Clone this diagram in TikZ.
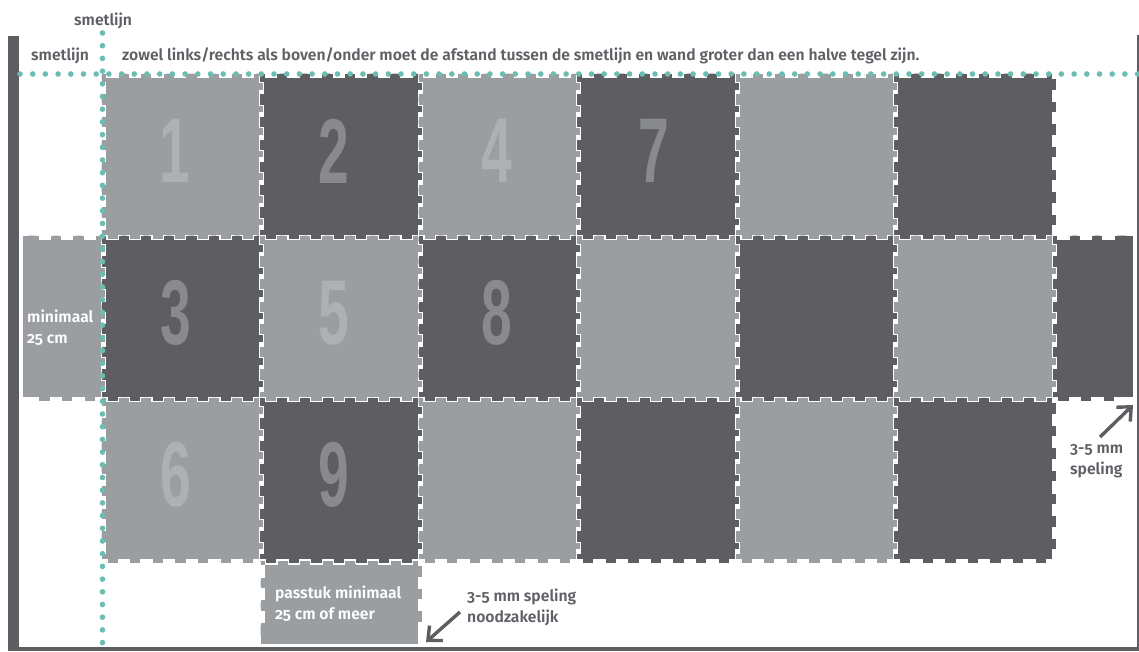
\documentclass[tikz,border=0pt]{standalone}
\usepackage{fontspec}
\setmainfont{Fira Sans}[Numbers=OldStyle,BoldFont={Fira Sans SemiBold}]
\newfontfamily\digitfont{Liberation Sans}[Scale=1]
\usetikzlibrary{arrows.meta}
\definecolor{lt}{HTML}{9B9EA1}
\definecolor{dk}{HTML}{5E5D62}
\definecolor{ltd}{HTML}{AEB1B3}
\definecolor{dkd}{HTML}{898A8D}
\definecolor{teal}{HTML}{6CBDB1}
\definecolor{ink}{HTML}{5F6066}
\def\pp{22.6}
\def\tt{4}
\newcommand\topE[1]{\foreach \i in {1,...,#1}{ -- ++(.25*\pp,0) -- ++(0,\tt) -- ++(.5*\pp,0) -- ++(0,-\tt) -- ++(.25*\pp,0)}}
\newcommand\botE[1]{\foreach \i in {1,...,#1}{ -- ++(-.25*\pp,0) -- ++(0,\tt) -- ++(-.5*\pp,0) -- ++(0,-\tt) -- ++(-.25*\pp,0)}}
\newcommand\rightE[1]{\foreach \i in {1,...,#1}{ -- ++(0,.25*\pp) -- ++(\tt,0) -- ++(0,.5*\pp) -- ++(-\tt,0) -- ++(0,.25*\pp)}}
\newcommand\leftE[1]{\foreach \i in {1,...,#1}{ -- ++(0,-.25*\pp) -- ++(\tt,0) -- ++(0,-.5*\pp) -- ++(-\tt,0) -- ++(0,-.25*\pp)}}
\newcommand\tile[3]{\path[tilebase,fill=#3] (#1,#2) \topE{7} -- (#1+158.5,#2) \rightE{7} -- (#1+158.5,#2+162) \botE{7} -- (#1,#2+162) \leftE{7} -- cycle;}
\tikzset{
  tilebase/.style={draw=white,line width=.8pt,line join=miter},
  smetlabel/.style={text=ink,font=\bfseries\fontsize{15.7}{18}\selectfont,inner sep=0pt,anchor=west},
  whitelabel/.style={text=white,font=\bfseries\fontsize{15.7}{21}\selectfont,inner sep=0pt,anchor=west,align=left},
  inklabel/.style={text=ink,font=\bfseries\fontsize{15.7}{21}\selectfont,inner sep=0pt,anchor=west,align=left},
  digit/.style={font=\digitfont\bfseries\fontsize{92}{92}\selectfont,inner sep=0pt,anchor=center},
  smetdots/.style={teal,line width=5.6pt,line cap=round,dash pattern=on 0pt off 12.7pt},
  pointer/.style={draw=dk,line width=3.4pt,-{Straight Barb[length=11pt,width=20pt,line width=3.4pt]}}
}
\newcommand\dig[4]{\node[digit,text=#4] (d#3) at (#1,#2) {\scalebox{.6}[1]{#3}};}
\begin{document}
\begin{tikzpicture}[x=1pt,y=-1pt]
\useasboundingbox (0,0) rectangle (1139,651);
\fill[white] (0,0) rectangle (1139,651);
\fill[dk] (8,36) rectangle (19,651);
\fill[dk] (8,647) rectangle (1139,651);
\fill[dk] (1137,35) rectangle (1139,651);
\path[tilebase,fill=lt] (22,235) -- ++(.5*\pp,0) \topE{3} -- (101,235) \rightE{7} -- (101,397) \botE{3} -- (22,397) -- cycle;
\path[tilebase,fill=lt] (260,560) \topE{7} -- (418.5,560) \rightE{3} -- ++(0,16) -- (418.5,644) -- (260,644) -- ++(0,-16) \leftE{3} -- cycle;
\tile{101}{73}{lt}\tile{259.5}{73}{dk}\tile{418}{73}{lt}\tile{576.5}{73}{dk}\tile{735}{73}{lt}\tile{893.5}{73}{dk}
\tile{101}{397}{lt}\tile{259.5}{397}{dk}\tile{418}{397}{lt}\tile{576.5}{397}{dk}\tile{735}{397}{lt}\tile{893.5}{397}{dk}
\tile{101}{235}{dk}\tile{259.5}{235}{lt}\tile{418}{235}{dk}\tile{576.5}{235}{lt}\tile{735}{235}{dk}\tile{893.5}{235}{lt}
\path[tilebase,fill=dk] (1052,235) \topE{3} -- (1133,235) -- (1133,397) -- (1120,397) \botE{3} -- (1052,397) \leftE{7} -- cycle;
\dig{175}{151}{1}{ltd}
\dig{334}{151}{2}{dkd}
\dig{497}{151}{4}{ltd}
\dig{654}{151}{7}{dkd}
\dig{176}{313}{3}{dkd}
\dig{334}{313}{5}{ltd}
\dig{497}{313}{8}{dkd}
\dig{176}{475}{6}{ltd}
\dig{334}{475}{9}{dkd}
\coordinate (hs) at (20,74);
\coordinate (he) at (1139,74);
\coordinate (vs) at (102.5,33);
\coordinate (ve) at (102.5,651);
\draw[smetdots] (hs) -- (he);
\draw[smetdots] (vs) -- (ve);
\node[smetlabel] (s1) at (74,21) {smetlijn};
\node[smetlabel] (s2) at (31,56) {smetlijn};
\node[smetlabel] (note) at (122,56) {zowel links/rechts als boven/onder moet de afstand tussen de smetlijn en wand groter dan een halve tegel zijn.};
\node[whitelabel] (min) at (27,328) {minimaal\\25 cm};
\node[whitelabel] (pass) at (275,603.5) {passtuk minimaal\\25 cm of meer};
\node[inklabel] (sp1) at (467,607.5) {3-5 mm speling\\noodzakelijk};
\node[inklabel] (sp2) at (1070,461.5) {3-5 mm\\speling};
\coordinate (a1s) at (1100,437);
\coordinate (a1e) at (1133,405);
\coordinate (a2s) at (460,612);
\coordinate (a2e) at (426,642);
\draw[pointer] (a1s) -- (a1e);
\draw[pointer] (a2s) -- (a2e);
\end{tikzpicture}
\end{document}
